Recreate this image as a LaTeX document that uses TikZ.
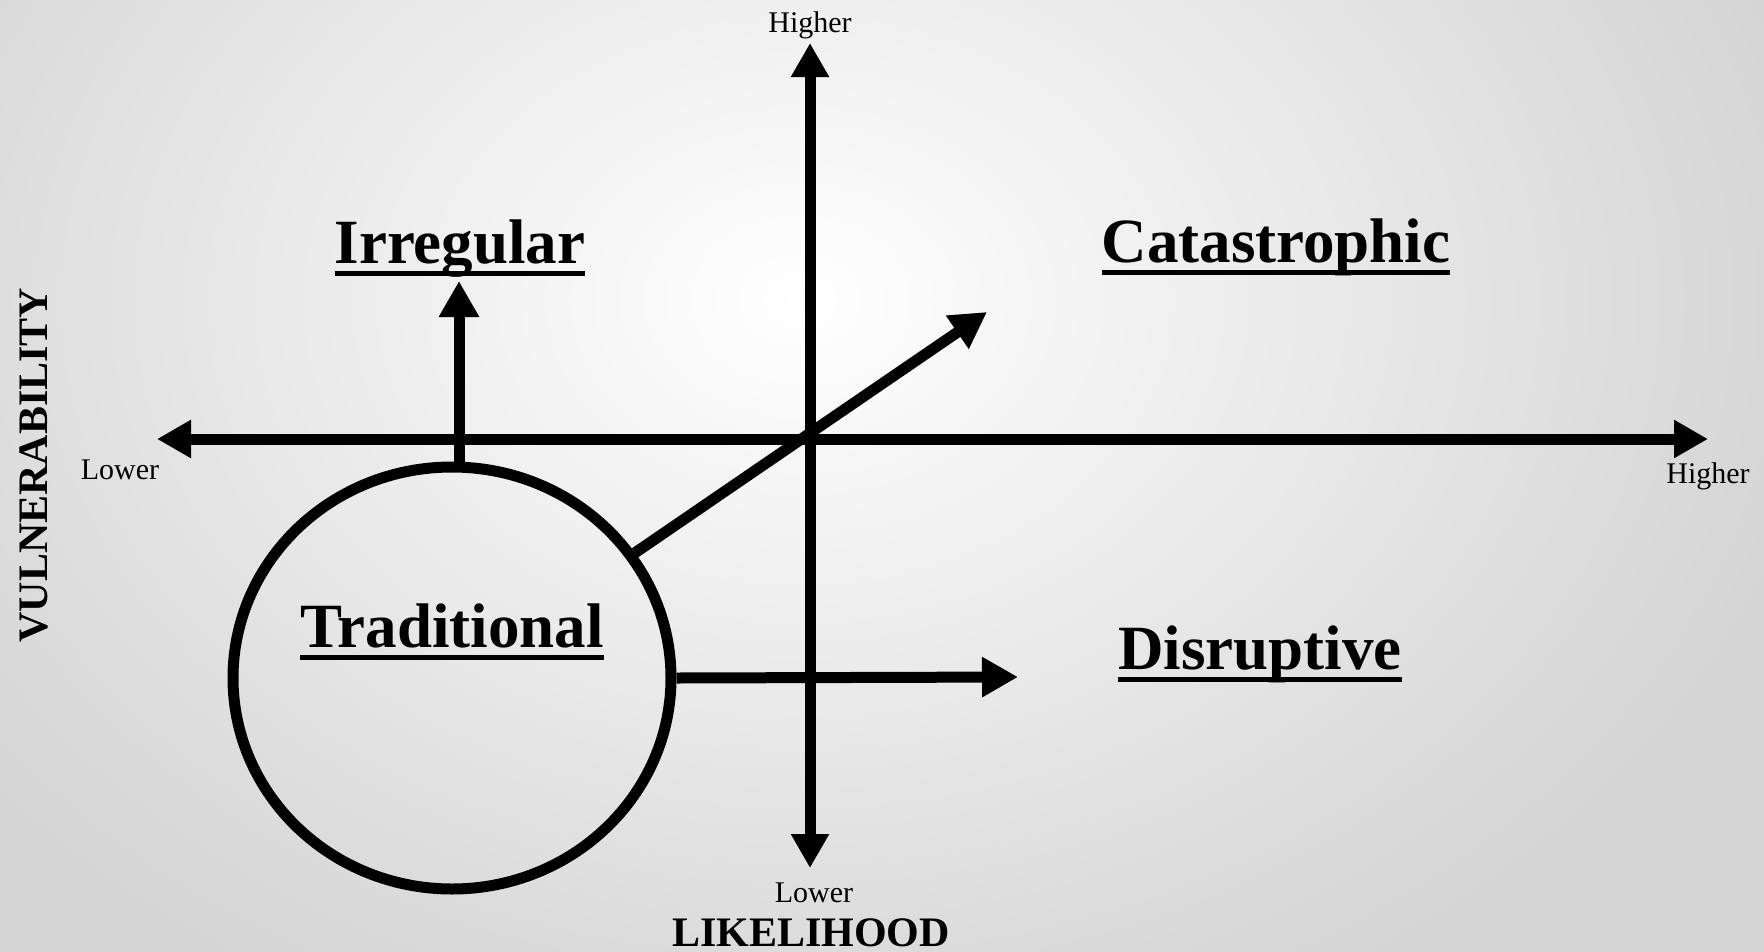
\documentclass[tikz,border=0pt]{standalone}
\usepackage{fontspec}
\setmainfont{Liberation Serif}
\usetikzlibrary{arrows.meta,shapes.geometric}
\newcommand\myul[1]{\setbox0=\hbox{#1}\rlap{\rule[-0.2em]{\wd0}{0.07em}}\box0}
\tikzset{
  thickline/.style={line width=11pt, draw=black},
  arr/.style={thickline, -{Triangle[length=36pt,width=38pt]}},
  dblarr/.style={thickline, {Triangle[length=34pt,width=36pt]}-{Triangle[length=34pt,width=36pt]}},
  small/.style={font=\fontsize{30}{34}\selectfont, anchor=base, inner sep=0},
  big/.style={font=\fontsize{63}{70}\selectfont\bfseries, anchor=base, inner sep=0},
  axislabel/.style={font=\fontsize{42}{46}\selectfont\bfseries, anchor=base, inner sep=0},
}
\begin{document}
\begin{tikzpicture}[x=1pt,y=-1pt]
\useasboundingbox (0,0) rectangle (1764,951);
\begin{scope}
\clip (0,0) rectangle (1764,951);
\shade[inner color=white, outer color=black!17] (-250,-500) rectangle (1850,1100);
\end{scope}
% coordinates
\coordinate (vtop) at (810,43);
\coordinate (vbot) at (810,868);
\coordinate (hleft) at (157,439);
\coordinate (hright) at (1708,439);
\coordinate (irtip) at (459,281);
\coordinate (cattip) at (987,312);
\coordinate (distip) at (1018,677);
% axes
\draw[dblarr] (vbot) -- (vtop);
\draw[dblarr] (hleft) -- (hright);
% circle
\node[ellipse, thickline, minimum width=438pt, minimum height=422pt, inner sep=0] (trad) at (452,678) {};
% arrows from circle
\draw[arr] (trad.north -| irtip) -- (irtip);
\draw[arr] (trad) -- (cattip);
\draw[arr] (trad.east) -- (distip);
% labels
\node[small] (hightop) at (810,32) {Higher};
\node[small] (lowleft) at (120,479) {Lower};
\node[small] (highright) at (1708,483) {Higher};
\node[small] (lowbot) at (814,902) {Lower};
\node[axislabel] (likeli) at (811,946) {LIKELIHOOD};
\node[axislabel, rotate=90] (vuln) at (47,465) {VULNERABILITY};
\node[big] (irr) at (460,263) {\myul{Irregular}};
\node[big] (cat) at (1276,262) {\myul{Catastrophic}};
\node[big] (tradlbl) at (452,647) {\myul{Traditional}};
\node[big] (dis) at (1260,669) {\myul{Disruptive}};
\end{tikzpicture}
\end{document}
